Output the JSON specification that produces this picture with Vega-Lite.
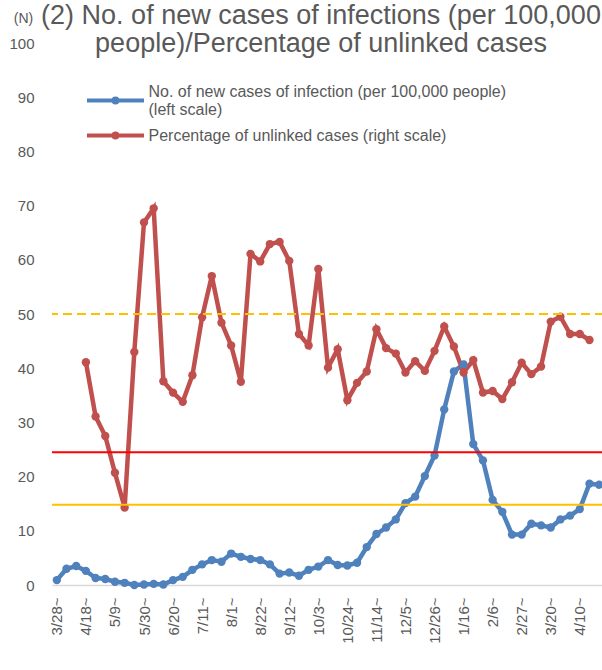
{
  "$schema": "https://vega.github.io/schema/vega-lite/v6.json",
  "autosize": {"type": "none"},
  "width": 552,
  "height": 542,
  "padding": {"left": 52, "top": 43, "right": 0, "bottom": 85},
  "background": "white",
  "config": {"view": {"stroke": null}, "font": "Liberation Sans"},
  "title": {
    "text": ["(2) No. of new cases of infections (per 100,000", "people)/Percentage of unlinked cases"],
    "fontSize": 27,
    "font": "Liberation Sans",
    "fontWeight": "normal",
    "color": "#595959",
    "anchor": "middle",
    "offset": -47,
    "lineHeight": 28,
    "dx": -7
  },
  "data": {
    "values": [
      {"week": "3/28", "cases": 0.9, "unlinked": null},
      {"week": "4/4", "cases": 3.0, "unlinked": null},
      {"week": "4/11", "cases": 3.5, "unlinked": null},
      {"week": "4/18", "cases": 2.6, "unlinked": 41.1},
      {"week": "4/25", "cases": 1.3, "unlinked": 31.1},
      {"week": "5/2", "cases": 1.1, "unlinked": 27.5},
      {"week": "5/9", "cases": 0.6, "unlinked": 20.7},
      {"week": "5/16", "cases": 0.4, "unlinked": 14.3},
      {"week": "5/23", "cases": 0.0, "unlinked": 43.0},
      {"week": "5/30", "cases": 0.1, "unlinked": 66.9},
      {"week": "6/6", "cases": 0.2, "unlinked": 69.5},
      {"week": "6/13", "cases": 0.1, "unlinked": 37.6},
      {"week": "6/20", "cases": 0.9, "unlinked": 35.5},
      {"week": "6/27", "cases": 1.5, "unlinked": 33.8},
      {"week": "7/4", "cases": 2.8, "unlinked": 38.7},
      {"week": "7/11", "cases": 3.8, "unlinked": 49.4},
      {"week": "7/18", "cases": 4.6, "unlinked": 57.0},
      {"week": "7/25", "cases": 4.3, "unlinked": 48.4},
      {"week": "8/1", "cases": 5.8, "unlinked": 44.2},
      {"week": "8/8", "cases": 5.2, "unlinked": 37.5},
      {"week": "8/15", "cases": 4.8, "unlinked": 61.1},
      {"week": "8/22", "cases": 4.6, "unlinked": 59.7},
      {"week": "8/29", "cases": 3.8, "unlinked": 62.9},
      {"week": "9/5", "cases": 2.1, "unlinked": 63.3},
      {"week": "9/12", "cases": 2.3, "unlinked": 59.8},
      {"week": "9/19", "cases": 1.7, "unlinked": 46.3},
      {"week": "9/26", "cases": 2.8, "unlinked": 44.2},
      {"week": "10/3", "cases": 3.4, "unlinked": 58.3},
      {"week": "10/10", "cases": 4.6, "unlinked": 40.1},
      {"week": "10/17", "cases": 3.7, "unlinked": 43.5},
      {"week": "10/24", "cases": 3.6, "unlinked": 34.1},
      {"week": "10/31", "cases": 4.1, "unlinked": 37.3},
      {"week": "11/7", "cases": 7.0, "unlinked": 39.4},
      {"week": "11/14", "cases": 9.4, "unlinked": 47.2},
      {"week": "11/21", "cases": 10.6, "unlinked": 43.7},
      {"week": "11/28", "cases": 12.1, "unlinked": 42.7},
      {"week": "12/5", "cases": 15.1, "unlinked": 39.2},
      {"week": "12/12", "cases": 16.3, "unlinked": 41.3},
      {"week": "12/19", "cases": 20.1, "unlinked": 39.5},
      {"week": "12/26", "cases": 23.9, "unlinked": 43.2},
      {"week": "1/2", "cases": 32.4, "unlinked": 47.7},
      {"week": "1/9", "cases": 39.4, "unlinked": 44.0},
      {"week": "1/16", "cases": 40.7, "unlinked": 39.2},
      {"week": "1/23", "cases": 26.0, "unlinked": 41.5},
      {"week": "1/30", "cases": 23.0, "unlinked": 35.5},
      {"week": "2/6", "cases": 15.7, "unlinked": 35.8},
      {"week": "2/13", "cases": 13.5, "unlinked": 34.3},
      {"week": "2/20", "cases": 9.3, "unlinked": 37.4},
      {"week": "2/27", "cases": 9.3, "unlinked": 41.0},
      {"week": "3/6", "cases": 11.3, "unlinked": 38.9},
      {"week": "3/13", "cases": 11.0, "unlinked": 40.3},
      {"week": "3/20", "cases": 10.6, "unlinked": 48.6},
      {"week": "3/27", "cases": 12.1, "unlinked": 49.5},
      {"week": "4/3", "cases": 12.8, "unlinked": 46.3},
      {"week": "4/10", "cases": 14.0, "unlinked": 46.3},
      {"week": "4/17", "cases": 18.7, "unlinked": 45.2},
      {"week": "4/24", "cases": 18.5, "unlinked": null}
    ]
  },
  "layer": [
    {
      "transform": [
        {"fold": ["cases", "unlinked"], "as": ["series", "value"]},
        {"filter": "datum.value != null"}
      ],
      "mark": {"type": "line", "strokeWidth": 4.5, "point": {"size": 70, "filled": true, "opacity": 1}},
      "encoding": {
        "x": {
          "field": "week", "type": "ordinal", "sort": null,
          "scale": {"type": "point", "padding": 0.5},
          "axis": {
            "values": ["3/28", "4/18", "5/9", "5/30", "6/20", "7/11", "8/1", "8/22", "9/12", "10/3", "10/24", "11/14", "12/5", "12/26", "1/16", "2/6", "2/27", "3/20", "4/10"],
            "labelExpr": "datum.label + '~'",
            "labelAngle": -90,
            "title": null,
            "ticks": false,
            "grid": false,
            "domainColor": "#D9D9D9",
            "domainWidth": 1.5,
            "labelPadding": 12,
            "labelFontSize": 15,
            "labelColor": "#595959",
            "labelFont": "Liberation Sans"
          }
        },
        "y": {
          "field": "value", "type": "quantitative",
          "scale": {"domain": [0, 100]},
          "axis": {
            "values": [0, 10, 20, 30, 40, 50, 60, 70, 80, 90, 100],
            "domain": false, "ticks": false, "grid": false,
            "labelPadding": 18,
            "labelFontSize": 15,
            "labelColor": "#595959",
            "labelFont": "Liberation Sans",
            "title": "(N)",
            "titleAngle": 0,
            "titleX": -29,
            "titleY": -25,
            "titleAlign": "center",
            "titleBaseline": "middle",
            "titleFontSize": 14,
            "titleFontWeight": "normal",
            "titleColor": "#595959",
            "titleFont": "Liberation Sans"
          }
        },
        "color": {
          "field": "series", "type": "nominal",
          "scale": {"domain": ["cases", "unlinked"], "range": ["#4F81BD", "#C0504D"]},
          "legend": {
            "orient": "none",
            "legendX": 46.5,
            "legendY": 40.5,
            "title": null,
            "padding": 0,
            "symbolType": "M-1.9,0H1.9M0.13,0A0.13,0.13 0 1 1 -0.13,0A0.13,0.13 0 1 1 0.13,0",
            "symbolSize": 900,
            "symbolStrokeWidth": 4,
            "labelFontSize": 16,
            "labelFont": "Liberation Sans",
            "labelColor": "#595959",
            "labelOffset": 16,
            "labelLimit": 0,
            "rowPadding": 1,
            "labelExpr": "datum.value == 'cases' ? ['No. of new cases of infection (per 100,000 people)', '(left scale)'] : 'Percentage of unlinked cases (right scale)'",
            "encode": {
              "labels": {
                "update": {
                  "dy": {"signal": "datum.value == 'cases' ? -9 : 0"},
                  "lineHeight": {"value": 18}
                }
              }
            }
          }
        }
      }
    },
    {
      "data": {"values": [{"level": 50}]},
      "mark": {"type": "rule", "color": "#FFC000", "strokeWidth": 2, "strokeDash": [9, 5]},
      "encoding": {"y": {"field": "level", "type": "quantitative"}}
    },
    {
      "data": {"values": [{"level": 24.5}]},
      "mark": {"type": "rule", "color": "#FF0000", "strokeWidth": 2},
      "encoding": {"y": {"field": "level", "type": "quantitative"}}
    },
    {
      "data": {"values": [{"level": 14.8}]},
      "mark": {"type": "rule", "color": "#FFC000", "strokeWidth": 2},
      "encoding": {"y": {"field": "level", "type": "quantitative"}}
    }
  ]
}
